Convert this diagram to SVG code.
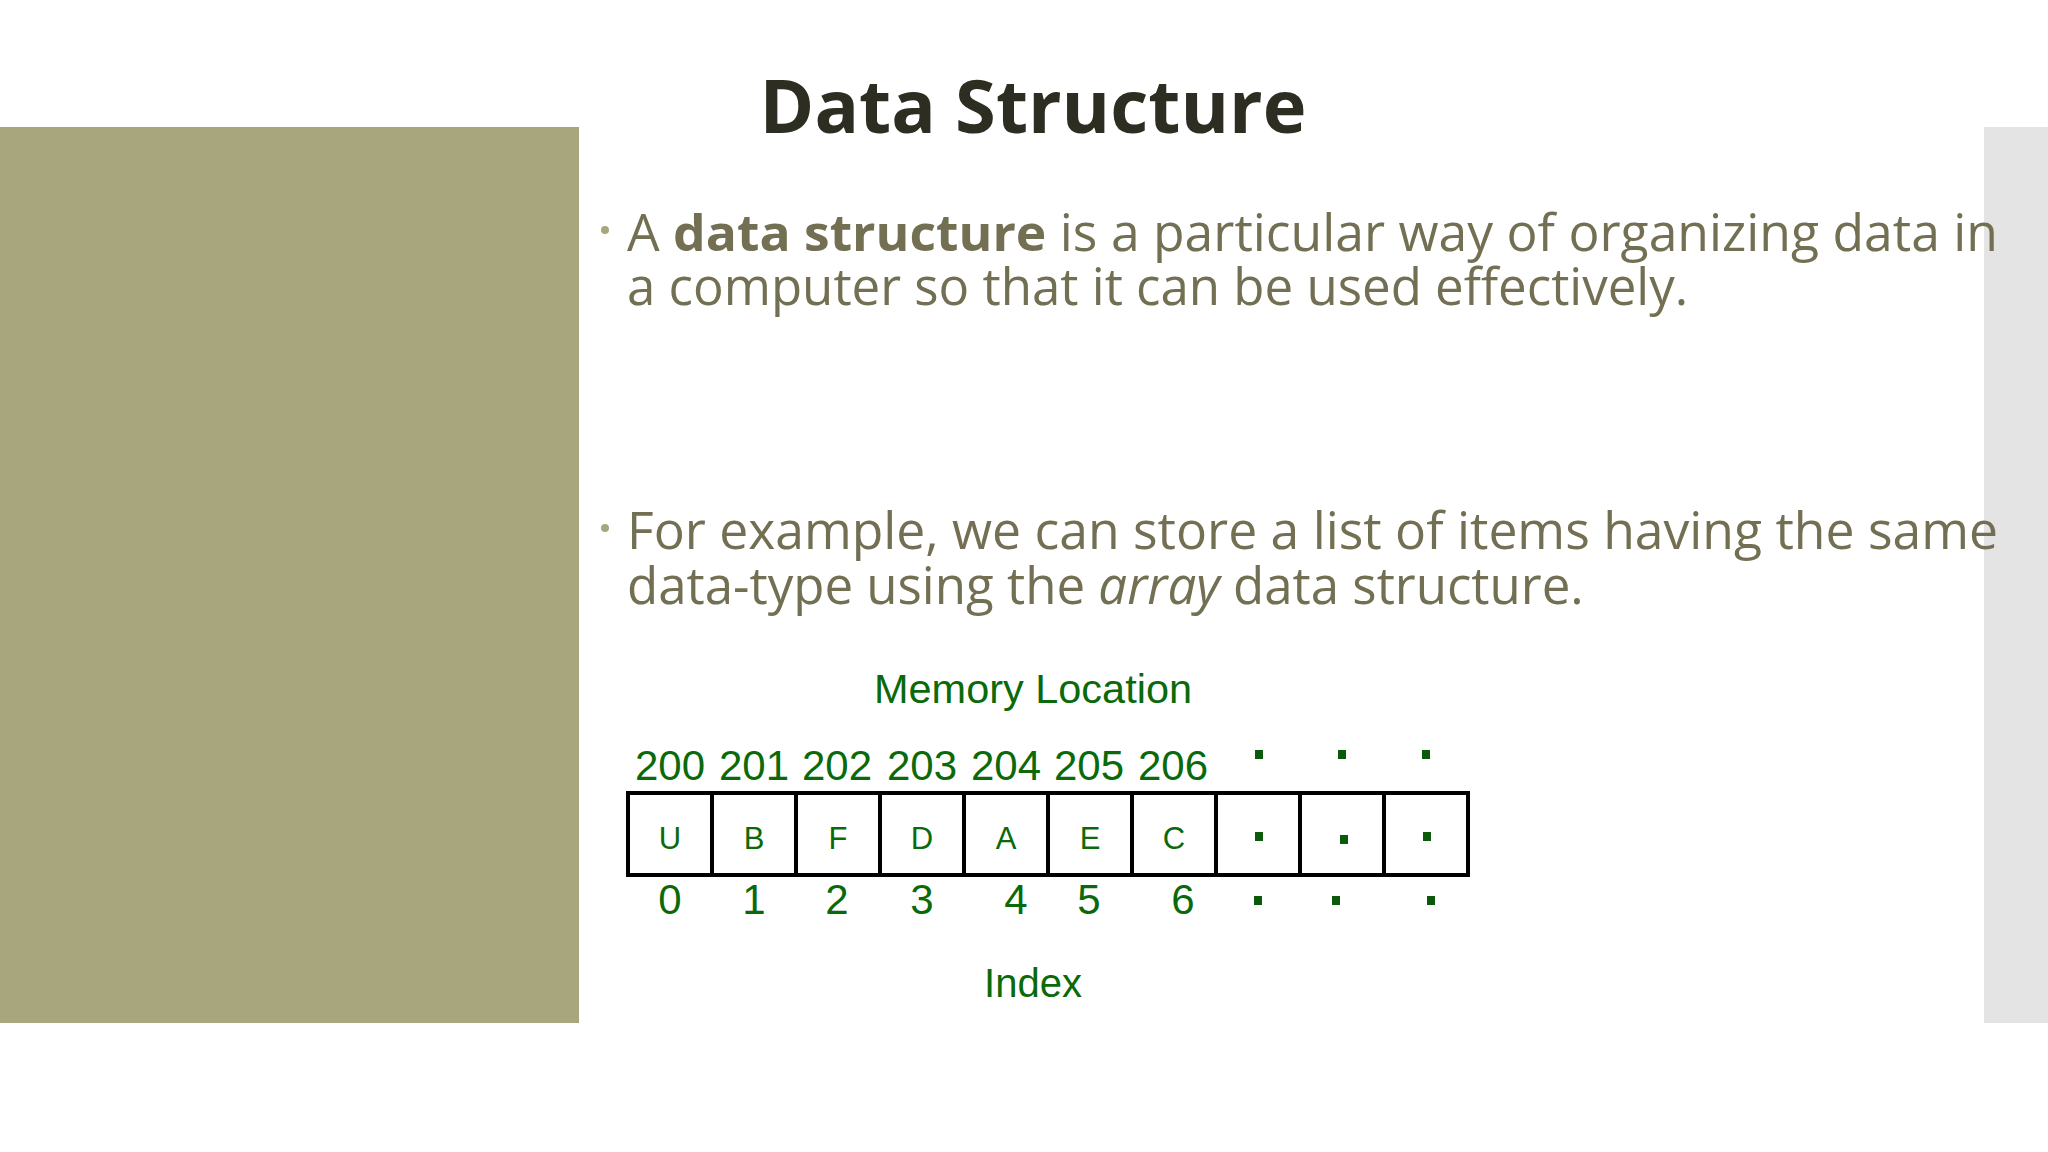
<svg xmlns="http://www.w3.org/2000/svg" width="2048" height="1152" viewBox="0 0 2048 1152">
<style>
.t{font-family:"Open Sans","Noto Sans",sans-serif;font-size:51px;fill:#736f52}
.g{font-family:"Liberation Sans",Arial,sans-serif;fill:#0a6a0a;text-anchor:middle}
.cell{fill:#fff;stroke:#000;stroke-width:4}
.d{fill:#0a5a0a}
</style>
<rect width="2048" height="1152" fill="#fff"/>
<rect x="0" y="127" width="579" height="896" fill="#a8a67c"/>
<rect x="1984" y="127" width="64" height="896" fill="#e4e4e4"/>
<g id="title"><text x="1033" y="133" font-family="'Open Sans','Noto Sans',sans-serif" font-weight="bold" font-size="74" fill="#2e2d22" text-anchor="middle">Data Structure</text></g>
<g id="bullet1">
<circle cx="605" cy="230" r="4" fill="#a8a67c"/>
<text class="t" x="627" y="251" textLength="1371" lengthAdjust="spacingAndGlyphs">A <tspan font-weight="bold">data structure</tspan> is a particular way of organizing data in</text>
<text class="t" x="627" y="305">a computer so that it can be used effectively.</text>
</g>
<g id="bullet2">
<circle cx="605" cy="528" r="4" fill="#a8a67c"/>
<text class="t" x="627" y="549" textLength="1371" lengthAdjust="spacingAndGlyphs">For example, we can store a list of items having the same</text>
<text class="t" x="627" y="604">data-type using the <tspan font-style="italic">array</tspan> data structure.</text>
</g>
<g id="array">
<text class="g" x="1033" y="703" font-size="40" textLength="318" lengthAdjust="spacingAndGlyphs">Memory Location</text>
<g font-size="42">
<text class="g" x="670" y="780">200</text><text class="g" x="754" y="780">201</text><text class="g" x="837" y="780">202</text><text class="g" x="922" y="780">203</text><text class="g" x="1006" y="780">204</text><text class="g" x="1089" y="780">205</text><text class="g" x="1173" y="780">206</text>
</g>
<rect class="d" x="1255" y="750" width="8" height="9"/><rect class="d" x="1338" y="750" width="8" height="9"/><rect class="d" x="1422" y="750" width="8" height="9"/>
<g>
<rect class="cell" x="628" y="793" width="84" height="82"/><rect class="cell" x="712" y="793" width="84" height="82"/><rect class="cell" x="796" y="793" width="84" height="82"/><rect class="cell" x="880" y="793" width="84" height="82"/><rect class="cell" x="964" y="793" width="84" height="82"/><rect class="cell" x="1048" y="793" width="84" height="82"/><rect class="cell" x="1132" y="793" width="84" height="82"/><rect class="cell" x="1216" y="793" width="84" height="82"/><rect class="cell" x="1300" y="793" width="84" height="82"/><rect class="cell" x="1384" y="793" width="84" height="82"/>
</g>
<g font-size="31">
<text class="g" x="670" y="849">U</text><text class="g" x="754" y="849">B</text><text class="g" x="838" y="849">F</text><text class="g" x="922" y="849">D</text><text class="g" x="1006" y="849">A</text><text class="g" x="1090" y="849">E</text><text class="g" x="1174" y="849">C</text>
</g>
<rect class="d" x="1255" y="832" width="8" height="9"/><rect class="d" x="1340" y="835" width="8" height="9"/><rect class="d" x="1423" y="832" width="8" height="9"/>
<g font-size="42">
<text class="g" x="670" y="914">0</text><text class="g" x="754" y="914">1</text><text class="g" x="837" y="914">2</text><text class="g" x="922" y="914">3</text><text class="g" x="1016" y="914">4</text><text class="g" x="1089" y="914">5</text><text class="g" x="1183" y="914">6</text>
</g>
<rect class="d" x="1254" y="896" width="8" height="9"/><rect class="d" x="1332" y="896" width="8" height="9"/><rect class="d" x="1427" y="896" width="8" height="9"/>
<text class="g" x="1033" y="997" font-size="40">Index</text>
</g>
</svg>
